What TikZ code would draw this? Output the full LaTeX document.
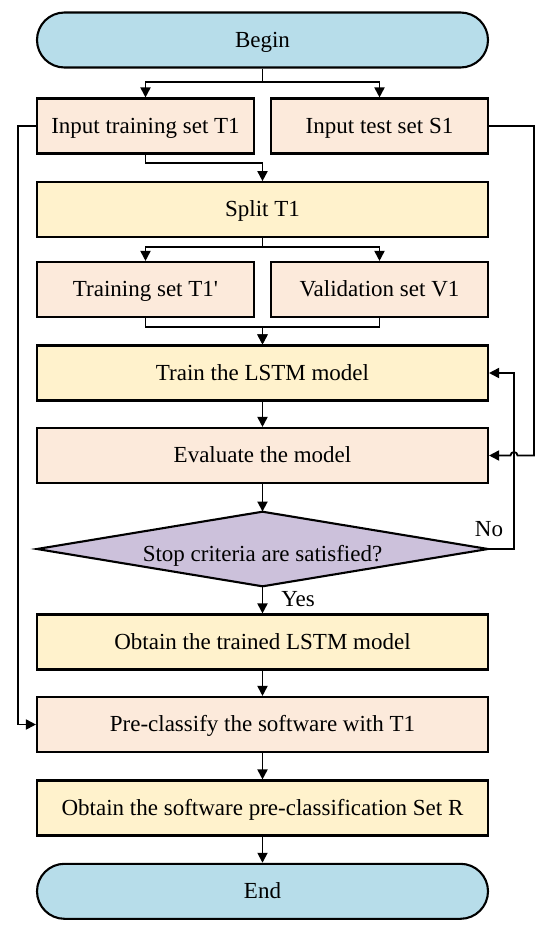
\documentclass[tikz,border=0pt]{standalone}
\usepackage{fontspec}
\setmainfont{Liberation Serif}[Ligatures=TeXOff]
\usetikzlibrary{arrows.meta}
\definecolor{termblue}{RGB}{183,221,234}
\definecolor{peach}{RGB}{252,234,219}
\definecolor{lightyel}{RGB}{255,242,204}
\definecolor{lav}{RGB}{204,193,219}
\begin{document}
\begin{tikzpicture}[x=1pt,y=-1pt,
  box/.style={draw=black, line width=2.1pt, minimum height=55pt, inner sep=0pt, text height=14pt, text depth=0pt, font=\fontsize{23}{26}\selectfont},
  widebox/.style={box, minimum width=451pt},
  halfbox/.style={box, minimum width=217pt},
  term/.style={widebox, rounded corners=27.5pt, fill=termblue},
  decide/.style={minimum width=451pt, minimum height=74.5pt, inner sep=0pt},
  conn/.style={line width=1.8pt, -{Triangle[length=10pt,width=10pt]}},
  lbl/.style={font=\fontsize{23}{26}\selectfont, inner sep=0pt, text height=14pt, text depth=0pt}
]
\useasboundingbox (0,0) rectangle (550,935);
\node[term] (begin) at (262.5,40) {Begin};
\node[halfbox, fill=peach] (in1) at (145.5,126) {Input training set T1};
\node[halfbox, fill=peach] (in2) at (379.5,126) {Input test set S1};
\node[widebox, fill=lightyel] (split) at (262.5,209.7) {Split T1};
\node[halfbox, fill=peach] (tr) at (145.5,289.5) {Training set T1'};
\node[halfbox, fill=peach] (val) at (379.5,289.5) {Validation set V1};
\node[widebox, fill=lightyel] (train) at (262.5,373) {Train the LSTM model};
\node[widebox, fill=peach] (eval) at (262.5,455.5) {Evaluate the model};
\path[draw=black, line width=2.1pt, fill=lav, line join=miter] (37,549) -- (262.5,511.7) -- (488,549) -- (262.5,586.3) -- cycle;
\node[decide] (stop) at (262.5,549) {};
\node[lbl] (stoptext) at (262.5,554) {Stop criteria are satisfied?};
\node[widebox, fill=lightyel] (obt) at (262.5,642) {Obtain the trained LSTM model};
\node[widebox, fill=peach] (pre) at (262.5,724.5) {Pre-classify the software with T1};
\node[widebox, fill=lightyel] (res) at (262.5,808) {Obtain the software pre-classification Set R};
\node[term] (end) at (262.5,891.3) {End};
\coordinate (lx) at (18,0);
\coordinate (nx) at (514,0);
\coordinate (sx) at (534,0);
% connectors
\draw[conn] (begin.south) -- ++(0,13.3) -| (in1.north);
\draw[conn] (begin.south) -- ++(0,13.3) -| (in2.north);
\draw[conn] (in1.south) -- ++(0,8.7) -| (split.north);
\draw[conn] (split.south) -- ++(0,9) -| (tr.north);
\draw[conn] (split.south) -- ++(0,9) -| (val.north);
\draw[conn] (tr.south) -- ++(0,9.3) -| (train.north);
\draw[conn] (val.south) -- ++(0,9.3) -| (train.north);
\draw[conn] (train) -- (eval);
\draw[conn] (eval) -- (stop.north);
\draw[conn] (stop.south) -- (obt);
\node[lbl] (yes) at (298,599) {Yes};
\draw[conn] (obt) -- (pre);
\draw[conn] (pre) -- (res);
\draw[conn] (res) -- (end);
\draw[conn] (stop.east) -- (stop.east -| nx) |- (train.east);
\node[lbl] (no) at (489,529) {No};
\draw[conn] (in2.east) -- (in2.east -| sx) -- (eval.east -| sx) -- ([xshift=3.5pt]eval.east -| nx) arc[start angle=0, end angle=180, radius=3.5pt] -- (eval.east);
\draw[conn] (in1.west) -- (in1.west -| lx) |- (pre.west);
\end{tikzpicture}
\end{document}
